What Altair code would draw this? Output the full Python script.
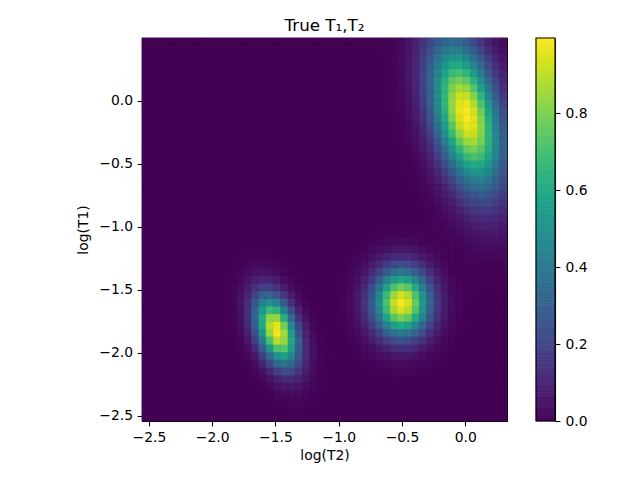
import altair as alt
import numpy as np
import pandas as pd

x_range = [-2.555, 0.33]   # log(T2)
y_range = [-2.54, 0.50]    # log(T1)
n_cells = 50

# ---- the three peaks of the true distribution ----
peak_x = [0.01, -0.50, -1.49]     # log(T2) centres
peak_y = [-0.11, -1.60, -1.82]    # log(T1) centres
sigma_x = [0.19, 0.15, 0.115]
sigma_y = [0.40, 0.18, 0.19]
rho = [-0.40, 0.0, -0.40]
amp = [0.995, 0.99, 0.99]

# colour scale and colour-bar ticks
c_max = 0.996
cbar_ticks = [0.0, 0.2, 0.4, 0.6, 0.8]
x_ticks = [-2.5, -2.0, -1.5, -1.0, -0.5, 0.0]
y_ticks = [-2.5, -2.0, -1.5, -1.0, -0.5, 0.0]

# ---- build the heat-map table ----
xe = np.linspace(x_range[0], x_range[1], n_cells + 1)
ye = np.linspace(y_range[0], y_range[1], n_cells + 1)
xc = (xe[:-1] + xe[1:]) / 2
yc = (ye[:-1] + ye[1:]) / 2
rows = []
for j in range(n_cells):
    for i in range(n_cells):
        v = 0.0
        for k in range(len(peak_x)):
            dx = (xc[i] - peak_x[k]) / sigma_x[k]
            dy = (yc[j] - peak_y[k]) / sigma_y[k]
            r = rho[k]
            q = (dx * dx - 2 * r * dx * dy + dy * dy) / (1 - r * r)
            v += amp[k] * np.exp(-0.5 * q)
        rows.append({"x": xe[i], "x2": xe[i + 1], "y": ye[j], "y2": ye[j + 1], "v": float(min(v, c_max))})
df = pd.DataFrame(rows)

levels = np.linspace(0, c_max, 201)
cb = pd.DataFrame({"c": levels[:-1], "c2": levels[1:]})

color_scale = alt.Scale(scheme="viridis", domain=[0, c_max])
minus_expr = "replace(format(datum.value, '.1f'), '-', '\u2212')"

heat = alt.Chart(df).mark_rect(strokeWidth=0.6).encode(
    x=alt.X("x:Q", scale=alt.Scale(domain=x_range, nice=False, zero=False),
            axis=alt.Axis(values=x_ticks, labelExpr=minus_expr, title="log(T2)")),
    x2="x2:Q",
    y=alt.Y("y:Q", scale=alt.Scale(domain=y_range, nice=False, zero=False),
            axis=alt.Axis(values=y_ticks, labelExpr=minus_expr, title="log(T1)", titlePadding=8)),
    y2="y2:Q",
    color=alt.Color("v:Q", scale=color_scale, legend=None),
    stroke=alt.Stroke("v:Q", scale=color_scale, legend=None),
)

cbar = alt.Chart(cb).mark_rect(strokeWidth=0.6).encode(
    x=alt.value(394), x2=alt.value(413),
    y=alt.Y("c:Q", scale=alt.Scale(domain=[0, c_max], nice=False, zero=False),
            axis=alt.Axis(orient="right", offset=48, values=cbar_ticks, format=".1f",
                          title=None, labelPadding=5)),
    y2="c2:Q",
    color=alt.Color("c:Q", scale=color_scale, legend=None),
    stroke=alt.Stroke("c:Q", scale=color_scale, legend=None),
)

frame = alt.Chart(pd.DataFrame({"a": [0]})).mark_rect(
    fill=None, stroke="black", strokeWidth=1.1
).encode(x=alt.value(394), x2=alt.value(413), y=alt.value(0), y2=alt.value(383))

chart = alt.layer(heat, cbar, frame).resolve_scale(y="independent").properties(
    width=365, height=383,
    title=alt.TitleParams("True T\u2081,T\u2082", fontSize=16.7, font="DejaVu Sans",
                          fontWeight="normal", frame="group", anchor="middle",
                          baseline="bottom", offset=-14, color="black"),
    autosize=alt.AutoSizeParams(type="none"),
    padding={"left": 142, "top": 38, "right": 133, "bottom": 59},
).configure_axis(
    grid=False, domainColor="black", domainWidth=1.1, tickColor="black", tickWidth=1.1,
    tickSize=4.9, labelPadding=4.5, labelFont="DejaVu Sans", labelFontSize=13.9,
    labelColor="black", titleFont="DejaVu Sans", titleFontSize=13.9,
    titleFontWeight="normal", titleColor="black", titlePadding=4,
).configure_view(stroke="black", strokeWidth=1.1, fill="#440154")

chart.save("out.html", embed_options={"renderer": "svg", "actions": False})
